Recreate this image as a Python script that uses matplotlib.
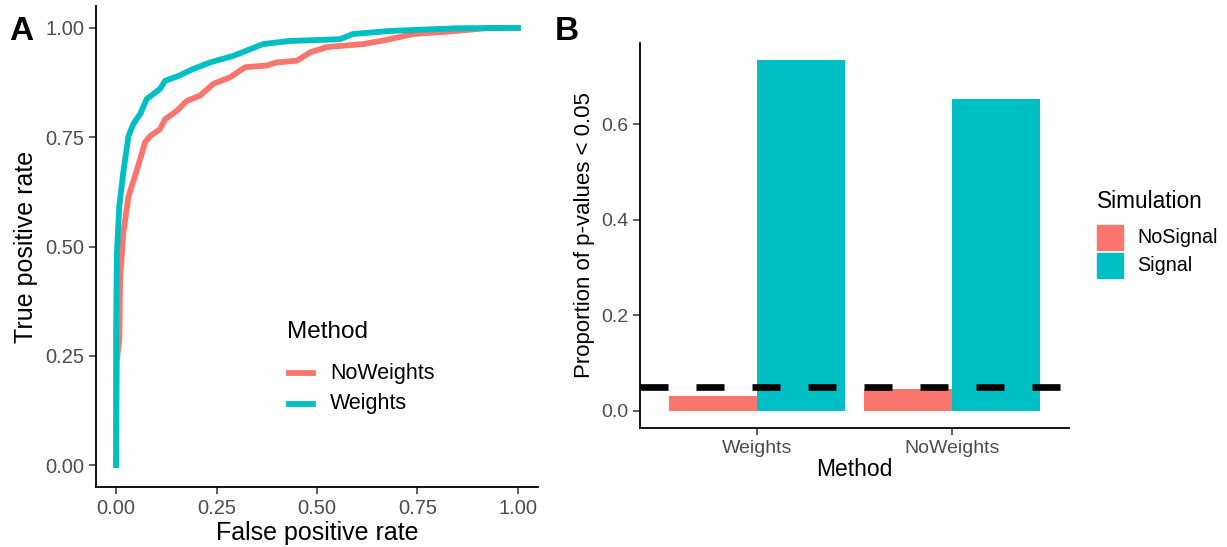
import numpy as np
import matplotlib.pyplot as plt
from matplotlib.patches import Rectangle
from matplotlib.lines import Line2D

plt.rcParams['font.family'] = ['Liberation Sans', 'DejaVu Sans']

# ROC curves
fpr_weights = [0.0, 0.0, 0.002, 0.008, 0.018, 0.031, 0.043, 0.06, 0.076, 0.109, 0.122,
               0.155, 0.192, 0.234, 0.292, 0.366, 0.433, 0.557, 0.590, 0.682, 0.847, 1.0]
tpr_weights = [0.0, 0.30, 0.486, 0.593, 0.67, 0.753, 0.78, 0.803, 0.837, 0.86, 0.879,
               0.89, 0.906, 0.921, 0.936, 0.963, 0.97, 0.974, 0.986, 0.993, 0.999, 1.0]
fpr_noweights = [0.0, 0.002, 0.008, 0.01, 0.018, 0.031, 0.047, 0.06, 0.072, 0.085, 0.109,
                 0.122, 0.151, 0.176, 0.209, 0.242, 0.284, 0.321, 0.375, 0.40, 0.45, 0.483,
                 0.524, 0.615, 0.665, 0.740, 0.847, 0.93, 1.0]
tpr_noweights = [0.0, 0.24, 0.287, 0.424, 0.531, 0.615, 0.661, 0.70, 0.738, 0.753, 0.768,
                 0.791, 0.81, 0.833, 0.845, 0.872, 0.887, 0.91, 0.914, 0.921, 0.925, 0.944,
                 0.956, 0.963, 0.971, 0.986, 0.993, 1.0, 1.0]
roc_methods = ['NoWeights', 'Weights']

# bar panel
methods = ['Weights', 'NoWeights']
simulations = ['NoSignal', 'Signal']
prop_nosignal = [0.031, 0.045]
prop_signal = [0.735, 0.652]
alpha_level = 0.05

red = '#F8766D'
teal = '#00BFC4'
grey = '#4D4D4D'

W, H = 1227, 547
fig = plt.figure(figsize=(W / 100, H / 100), dpi=100)

def fx(px):
    return px / W

def fy(py):
    return 1 - py / H

def style(ax):
    for s in ['top', 'right']:
        ax.spines[s].set_visible(False)
    for s in ['left', 'bottom']:
        ax.spines[s].set_linewidth(1.3)
    ax.tick_params(colors='#333333', length=5, width=1.1, labelcolor=grey)

# Panel A
ax1 = fig.add_axes([fx(96), fy(487), fx(538) - fx(96), fy(6) - fy(487)])
ax1.plot(fpr_noweights, tpr_noweights, color=red, lw=4.2, solid_joinstyle='round')
ax1.plot(fpr_weights, tpr_weights, color=teal, lw=4.2, solid_joinstyle='round')
ax1.set_xlim(-0.05, 1.05)
ax1.set_ylim(-0.05, 1.05)
ticks = [0, 0.25, 0.5, 0.75, 1.0]
ax1.set_xticks(ticks)
ax1.set_yticks(ticks)
ax1.set_xticklabels([f'{t:.2f}' for t in ticks], fontsize=14.5)
ax1.set_yticklabels([f'{t:.2f}' for t in ticks], fontsize=14.5)
ax1.set_xlabel('False positive rate', fontsize=18, labelpad=2)
ax1.set_ylabel('True positive rate', fontsize=18, labelpad=5)
style(ax1)

# legend A (drawn by hand to match ggplot layout)
fig.text(fx(287), fy(332), 'Method', fontsize=17.5, va='center', ha='left')
for name, col, yy in zip(roc_methods, [red, teal], [373, 404]):
    fig.add_artist(Line2D([fx(289), fx(313)], [fy(yy), fy(yy)], color=col, lw=4.2,
                          transform=fig.transFigure))
    fig.text(fx(330), fy(yy), name, fontsize=15.5, va='center', ha='left')
fig.text(fx(9), fy(16), 'A', fontsize=24, fontweight='bold', va='top')

# Panel B
ax2 = fig.add_axes([fx(640), fy(428), fx(1069) - fx(640), fy(42.5) - fy(428)])
x = np.arange(1, len(methods) + 1)
w = 0.45
ax2.bar(x - w / 2, prop_nosignal, width=w, color=red)
ax2.bar(x + w / 2, prop_signal, width=w, color=teal)
ax2.axhline(alpha_level, color='black', lw=4.8, dashes=(4.2, 4.2), zorder=3)
ax2.set_xlim(0.4, 2.6)
ax2.set_ylim(-0.036, 0.771)
ax2.set_xticks(x)
ax2.set_xticklabels(methods, fontsize=14)
ax2.set_yticks([0.0, 0.2, 0.4, 0.6])
ax2.set_yticklabels(['0.0', '0.2', '0.4', '0.6'], fontsize=14)
ax2.set_xlabel('Method', fontsize=16.5, labelpad=1)
ax2.set_ylabel('Proportion of p-values < 0.05', fontsize=16, labelpad=4)
style(ax2)

# legend B
fig.text(fx(1097), fy(201), 'Simulation', fontsize=16.3, va='center', ha='left')
for name, col, top in zip(simulations, [red, teal], [225, 253]):
    fig.add_artist(Rectangle((fx(1097), fy(top + 25)), fx(26), fy(0) - fy(25),
                             color=col, transform=fig.transFigure))
    fig.text(fx(1137), fy(top + 12.5), name, fontsize=14.2, va='center', ha='left')
fig.text(fx(555), fy(16), 'B', fontsize=24, fontweight='bold', va='top')

fig.savefig('out.png', dpi=100)
